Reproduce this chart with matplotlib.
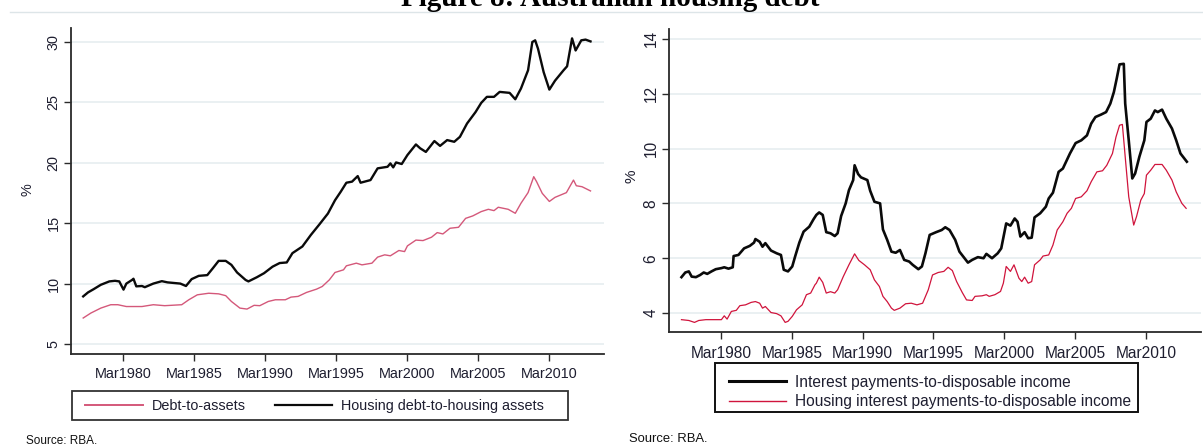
import matplotlib
matplotlib.use("Agg")
import matplotlib.pyplot as plt
from matplotlib.lines import Line2D
from matplotlib.patches import Rectangle

plt.rcParams['font.family'] = ['Liberation Sans', 'DejaVu Sans']

# ---------------- data (year as decimal, % values) ----------------
hd_years = [1977.36, 1977.7, 1978.1, 1978.6, 1979.2, 1979.6, 1979.9, 1980.2, 1980.4, 1980.8,
            1980.9, 1981.1, 1981.5, 1981.7, 1982.3, 1982.9, 1983.3, 1984.2, 1984.6, 1985.0,
            1985.5, 1986.1, 1986.5, 1986.9, 1987.4, 1987.8, 1988.2, 1988.8, 1989.0, 1989.6,
            1990.1, 1990.7, 1991.2, 1991.7, 1992.1, 1992.8, 1993.4, 1994.0, 1994.6, 1995.1,
            1995.5, 1995.9, 1996.3, 1996.7, 1996.9, 1997.6, 1998.1, 1998.8, 1999.0, 1999.2,
            1999.4, 1999.8, 2000.2, 2000.8, 2001.1, 2001.5, 2002.1, 2002.5, 2003.0, 2003.5,
            2003.9, 2004.4, 2005.0, 2005.4, 2005.8, 2006.3, 2006.7, 2007.4, 2007.8, 2008.2,
            2008.7, 2009.0, 2009.2, 2009.4, 2009.8, 2010.2, 2010.6, 2011.2, 2011.45, 2011.8,
            2012.05, 2012.45, 2012.75, 2013.1]
hd_values = [8.94, 9.27, 9.54, 9.9, 10.18, 10.23, 10.18, 9.5, 10.0, 10.3,
             10.4, 9.77, 9.8, 9.7, 10.0, 10.2, 10.1, 10.0, 9.8, 10.37,
             10.64, 10.7, 11.28, 11.88, 11.88, 11.55, 10.92, 10.3, 10.18, 10.53,
             10.86, 11.4, 11.7, 11.75, 12.52, 13.07, 14.03, 14.9, 15.8, 16.9,
             17.6, 18.35, 18.44, 18.9, 18.35, 18.57, 19.54, 19.67, 19.95, 19.62,
             20.03, 19.9, 20.64, 21.52, 21.2, 20.9, 21.8, 21.4, 21.88, 21.74,
             22.15, 23.25, 24.2, 24.96, 25.46, 25.46, 25.87, 25.79, 25.26, 26.15,
             27.66, 30.0, 30.14, 29.45, 27.5, 26.06, 26.8, 27.66, 27.99, 30.3,
             29.3, 30.14, 30.2, 30.05]

da_years = [1977.36, 1977.9, 1978.6, 1979.3, 1979.8, 1980.4, 1981.5, 1982.3, 1983.1, 1984.3,
            1984.8, 1985.4, 1986.2, 1986.9, 1987.4, 1987.8, 1988.4, 1988.9, 1989.4, 1989.8,
            1990.4, 1990.9, 1991.6, 1992.0, 1992.5, 1993.1, 1993.8, 1994.2, 1994.7, 1995.1,
            1995.7, 1995.9, 1996.6, 1997.0, 1997.7, 1998.1, 1998.6, 1999.0, 1999.6, 2000.0,
            2000.2, 2000.8, 2001.3, 2001.9, 2002.3, 2002.7, 2003.2, 2003.8, 2004.3, 2004.8,
            2005.4, 2005.9, 2006.3, 2006.6, 2007.3, 2007.8, 2008.2, 2008.7, 2009.1, 2009.3,
            2009.7, 2010.2, 2010.6, 2011.4, 2011.9, 2012.1, 2012.5, 2013.1]
da_values = [7.15, 7.56, 7.97, 8.25, 8.25, 8.1, 8.1, 8.25, 8.17, 8.25,
             8.66, 9.07, 9.2, 9.15, 9.0, 8.52, 7.97, 7.89, 8.2, 8.17,
             8.52, 8.66, 8.66, 8.88, 8.94, 9.27, 9.54, 9.76, 10.31, 10.92,
             11.14, 11.47, 11.69, 11.55, 11.69, 12.19, 12.38, 12.3, 12.74, 12.65,
             13.12, 13.6, 13.56, 13.84, 14.22, 14.11, 14.58, 14.66, 15.4, 15.6,
             15.96, 16.15, 16.04, 16.32, 16.15, 15.82, 16.65, 17.53, 18.85, 18.44,
             17.47, 16.8, 17.14, 17.53, 18.57, 18.1, 18.02, 17.67]

ip_years = [1977.38, 1977.65, 1977.9, 1978.1, 1978.4, 1978.7, 1978.95, 1979.2, 1979.5, 1979.8,
            1980.2, 1980.4, 1980.7, 1981.0, 1981.06, 1981.4, 1981.8, 1982.2, 1982.5, 1982.6,
            1982.9, 1983.1, 1983.3, 1983.7, 1984.1, 1984.4, 1984.6, 1984.9, 1985.2, 1985.4,
            1985.7, 1986.0, 1986.4, 1986.7, 1986.9, 1987.1, 1987.35, 1987.6, 1987.9, 1988.2,
            1988.4, 1988.65, 1988.97, 1989.2, 1989.5, 1989.6, 1989.85, 1990.05, 1990.5, 1990.7,
            1991.0, 1991.4, 1991.6, 1991.9, 1992.2, 1992.5, 1992.8, 1993.1, 1993.45, 1993.7,
            1994.1, 1994.35, 1994.6, 1994.9, 1995.35, 1995.75, 1996.0, 1996.3, 1996.7, 1997.0,
            1997.3, 1997.6, 1997.9, 1998.3, 1998.7, 1998.9, 1999.3, 1999.7, 1999.95, 2000.3,
            2000.6, 2000.9, 2001.1, 2001.3, 2001.6, 2001.85, 2002.1, 2002.3, 2002.7, 2003.1,
            2003.3, 2003.6, 2004.0, 2004.3, 2004.6, 2004.8, 2005.2, 2005.6, 2006.0, 2006.3,
            2006.6, 2007.0, 2007.35, 2007.65, 2007.9, 2008.1, 2008.3, 2008.6, 2008.7, 2008.95,
            2009.2, 2009.4, 2009.7, 2010.05, 2010.2, 2010.5, 2010.8, 2011.0, 2011.3, 2011.6,
            2012.0, 2012.3, 2012.6, 2013.05]
ip_values = [5.31, 5.48, 5.52, 5.33, 5.31, 5.39, 5.48, 5.43, 5.52, 5.6,
             5.64, 5.67, 5.62, 5.67, 6.08, 6.12, 6.36, 6.45, 6.57, 6.7,
             6.6, 6.42, 6.55, 6.28, 6.18, 6.12, 5.58, 5.52, 5.7, 6.06,
             6.57, 6.97, 7.15, 7.42, 7.58, 7.67, 7.58, 6.95, 6.91, 6.81,
             6.91, 7.54, 8.0, 8.48, 8.85, 9.39, 9.07, 8.95, 8.85, 8.46,
             8.06, 8.0, 7.05, 6.67, 6.24, 6.2, 6.3, 5.94, 5.88, 5.76,
             5.6, 5.7, 6.18, 6.85, 6.95, 7.03, 7.13, 7.03, 6.67, 6.24,
             6.04, 5.84, 5.94, 6.04, 6.0, 6.16, 6.0, 6.18, 6.36, 7.27,
             7.19, 7.45, 7.33, 6.79, 6.95, 6.73, 6.75, 7.49, 7.64, 7.88,
             8.18, 8.39, 9.15, 9.27, 9.6, 9.82, 10.2, 10.3, 10.48, 10.91,
             11.15, 11.24, 11.33, 11.64, 12.06, 12.55, 13.07, 13.09, 11.64, 10.3,
             8.91, 9.09, 9.7, 10.3, 10.97, 11.09, 11.39, 11.33, 11.42, 11.09,
             10.73, 10.3, 9.82, 9.52]

hi_years = [1977.38, 1977.9, 1978.3, 1978.6, 1979.1, 1980.2, 1980.4, 1980.6, 1980.9, 1981.25,
            1981.5, 1981.9, 1982.3, 1982.6, 1982.9, 1983.1, 1983.3, 1983.7, 1984.1, 1984.4,
            1984.7, 1984.9, 1985.2, 1985.5, 1985.9, 1986.2, 1986.5, 1986.8, 1986.9, 1987.1,
            1987.35, 1987.6, 1987.9, 1988.2, 1988.4, 1988.8, 1989.2, 1989.6, 1989.9, 1990.3,
            1990.7, 1991.0, 1991.35, 1991.6, 1991.9, 1992.2, 1992.4, 1992.8, 1993.2, 1993.6,
            1994.0, 1994.4, 1994.8, 1995.1, 1995.5, 1995.9, 1996.2, 1996.5, 1996.8, 1997.2,
            1997.5, 1997.9, 1998.1, 1998.6, 1998.9, 1999.1, 1999.5, 1999.9, 2000.1, 2000.3,
            2000.6, 2000.85, 2001.2, 2001.4, 2001.6, 2001.85, 2002.1, 2002.3, 2002.7, 2002.9,
            2003.3, 2003.6, 2003.9, 2004.3, 2004.6, 2004.9, 2005.2, 2005.6, 2006.0, 2006.3,
            2006.7, 2007.1, 2007.4, 2007.8, 2008.05, 2008.3, 2008.5, 2008.7, 2008.95, 2009.3,
            2009.5, 2009.8, 2010.05, 2010.2, 2010.5, 2010.8, 2011.3, 2011.6, 2012.0, 2012.3,
            2012.7, 2013.0]
hi_values = [3.76, 3.73, 3.66, 3.73, 3.76, 3.76, 3.9, 3.78, 4.06, 4.1,
             4.27, 4.3, 4.39, 4.42, 4.36, 4.18, 4.24, 4.02, 3.98, 3.9,
             3.66, 3.7, 3.88, 4.12, 4.3, 4.67, 4.73, 5.03, 5.09, 5.31,
             5.12, 4.73, 4.78, 4.73, 4.85, 5.33, 5.76, 6.16, 5.92, 5.76,
             5.58, 5.21, 4.97, 4.61, 4.42, 4.18, 4.1, 4.18, 4.34, 4.36,
             4.3, 4.36, 4.85, 5.39, 5.48, 5.52, 5.67, 5.55, 5.15, 4.75,
             4.48, 4.46, 4.61, 4.63, 4.67, 4.61, 4.67, 4.79, 5.09, 5.7,
             5.52, 5.76, 5.27, 5.15, 5.31, 5.09, 5.15, 5.76, 5.94, 6.08,
             6.12, 6.48, 7.03, 7.33, 7.64, 7.82, 8.18, 8.24, 8.46, 8.79,
             9.15, 9.19, 9.39, 9.82, 10.42, 10.85, 10.88, 9.7, 8.24, 7.21,
             7.52, 8.12, 8.36, 9.03, 9.21, 9.42, 9.42, 9.21, 8.85, 8.42,
             8.0, 7.82]

tick_years = [1980, 1985, 1990, 1995, 2000, 2005, 2010]
tick_labels = ['Mar1980', 'Mar1985', 'Mar1990', 'Mar1995', 'Mar2000', 'Mar2005', 'Mar2010']
left_yticks = [5, 10, 15, 20, 25, 30]
right_yticks = [4, 6, 8, 10, 12, 14]

# ---------------- figure ----------------
W, H = 1203, 446
fig = plt.figure(figsize=(W / 100, H / 100), dpi=100)


def fx(px):
    return px / W


def fy(py):
    return 1 - py / H


TXT = '#1e1e30'
SPINE = '#2a2a2a'
GRID = '#e6eef0'
BLACK = '#0a0a0a'
PINK = '#d4587a'
CRIMSON = '#d0143c'


def style_axes(ax, fs, yticks, xlabpad, ylabpad):
    for s in ['top', 'right']:
        ax.spines[s].set_visible(False)
    for s in ['left', 'bottom']:
        ax.spines[s].set_color(SPINE)
        ax.spines[s].set_linewidth(1.3)
    xt = [y + 2.0 / 12 for y in tick_years]
    ax.set_xticks(xt)
    ax.set_xticklabels(tick_labels)
    ax.set_yticks(yticks)
    ax.set_yticklabels([str(v) for v in yticks], rotation=90, va='center')
    ax.tick_params(axis='both', direction='out', length=5, width=1.0, color=SPINE,
                   labelsize=fs, labelcolor=TXT)
    ax.tick_params(axis='x', pad=xlabpad)
    ax.tick_params(axis='y', pad=ylabpad)
    ax.yaxis.grid(True, color=GRID, linewidth=1.2)
    ax.set_axisbelow(True)
    ax.set_xlim(1976.5, 2014.05)
    ax.set_facecolor('white')


# left panel
axL = fig.add_axes([fx(71), fy(354), fx(604) - fx(71), fy(28) - fy(354)])
style_axes(axL, 10.4, left_yticks, 4, 2.5)
axL.set_ylim(4.17, 31.16)
lda, = axL.plot(da_years, da_values, color=PINK, lw=1.0)
lhd, = axL.plot(hd_years, hd_values, color=BLACK, lw=1.7)
fig.text(fx(28), fy(190), '%', rotation=90, ha='center', va='center', fontsize=10.4, color=TXT)

# right panel
axR = fig.add_axes([fx(669), fy(332), fx(1201) - fx(669), fy(29) - fy(332)])
style_axes(axR, 11.2, right_yticks, 5, 2.5)
axR.set_ylim(3.31, 14.36)
rhi, = axR.plot(hi_years, hi_values, color=CRIMSON, lw=0.9)
rip, = axR.plot(ip_years, ip_values, color=BLACK, lw=1.9)
fig.text(fx(631), fy(176), '%', rotation=90, ha='center', va='center', fontsize=11, color=TXT)

# legends (frame drawn as rectangle)
legL = fig.legend([Line2D([], [], color=PINK, lw=1.4), Line2D([], [], color=BLACK, lw=1.6)],
                  ['Debt-to-assets', 'Housing debt-to-housing assets'],
                  loc='center left', bbox_to_anchor=(fx(78), fy(406)), ncol=2,
                  frameon=False, borderpad=0, handlelength=4.0, handletextpad=0.6,
                  columnspacing=2.0, fontsize=10.4, labelcolor=TXT)
fig.add_artist(Rectangle((fx(72), fy(420)), fx(568) - fx(72), fy(391) - fy(420),
                         transform=fig.transFigure, fill=False, edgecolor='#333333', lw=1.3))

legR = fig.legend([Line2D([], [], color=BLACK, lw=2.2), Line2D([], [], color=CRIMSON, lw=1.0)],
                  ['Interest payments-to-disposable income',
                   'Housing interest payments-to-disposable income'],
                  loc='center left', bbox_to_anchor=(fx(721), fy(392)), ncol=1,
                  frameon=False, borderpad=0, handlelength=3.7, handletextpad=0.55,
                  labelspacing=0.3, fontsize=11.2, labelcolor=TXT)
fig.add_artist(Rectangle((fx(715), fy(412)), fx(1138) - fx(715), fy(363) - fy(412),
                         transform=fig.transFigure, fill=False, edgecolor='#111111', lw=1.4))

# source notes
fig.text(fx(26), fy(441), 'Source: RBA.', ha='left', va='center', fontsize=8.5, color='#111111')
fig.text(fx(629), fy(439), 'Source: RBA.', ha='left', va='center', fontsize=9.4, color='#111111')

# clipped title and rule
fig.text(fx(610), fy(6), 'Figure 8: Australian housing debt', ha='center', va='baseline',
         fontsize=21, fontweight='bold', family=['Liberation Serif', 'DejaVu Serif'], color='black')
fig.add_artist(Line2D([fx(10), 1.0], [fy(11.5), fy(11.5)], transform=fig.transFigure,
                      color='#dde5e8', lw=1.0))

fig.savefig('out.png', dpi=100)
